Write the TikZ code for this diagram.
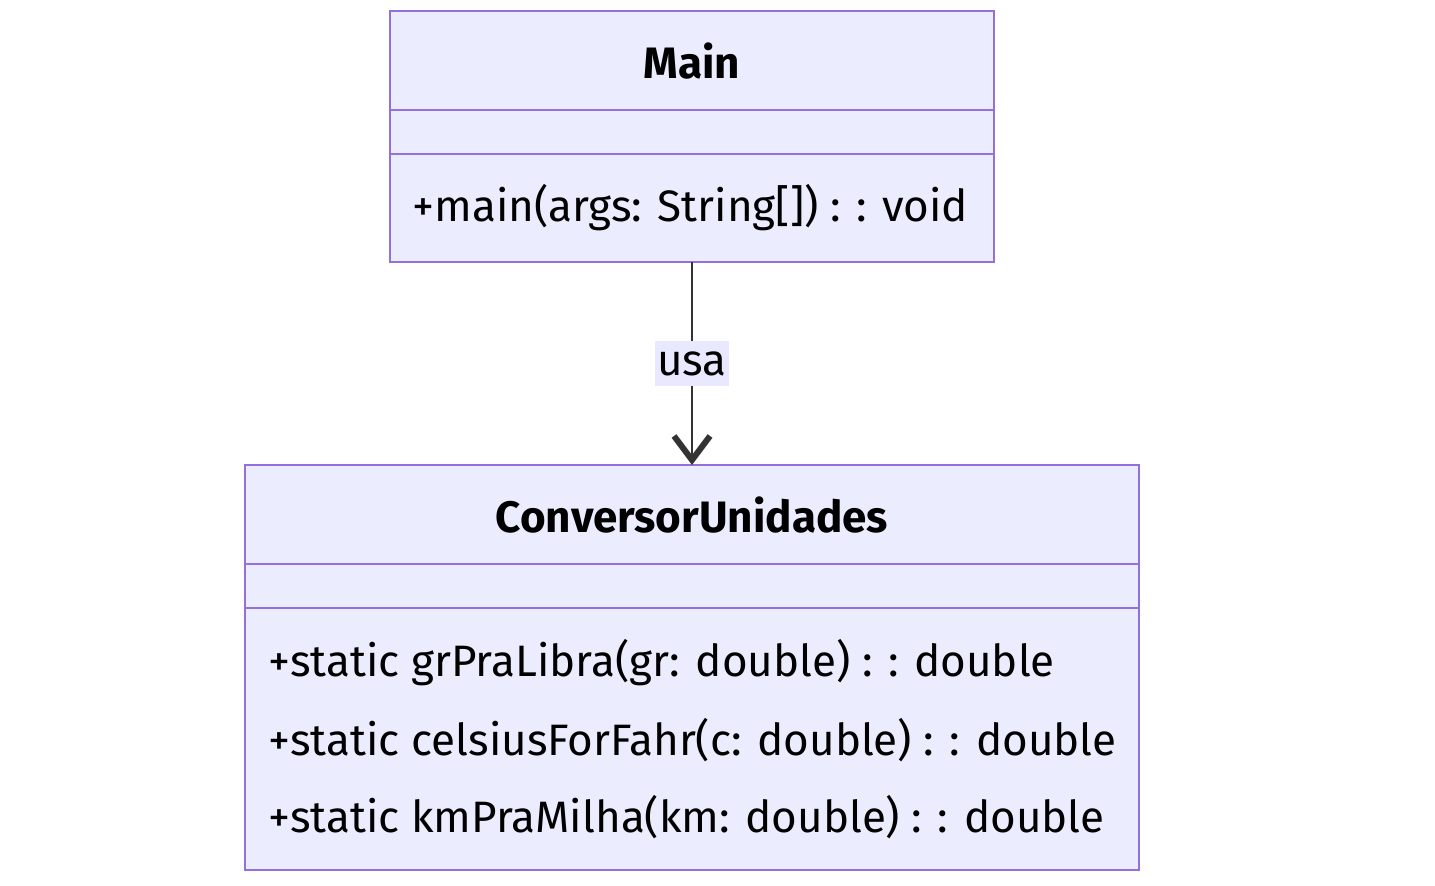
\documentclass[tikz,border=0pt]{standalone}
\usepackage{fontspec}
\setmainfont{Fira Sans}
\usetikzlibrary{arrows.meta,positioning}
\definecolor{umlfill}{HTML}{ECECFF}
\definecolor{umlborder}{HTML}{9370DB}
\definecolor{edgegray}{HTML}{333333}
\definecolor{labelfill}{HTML}{E8E8FF}
\begin{document}
\begin{tikzpicture}[x=0.5pt, y=-0.5pt, part/.style = {rectangle, draw=umlborder, fill=umlfill, line width=1.2pt, inner sep=0pt, outer sep=0pt}, member/.style = {anchor=west, inner sep=0pt, font=\fontsize{22}{26}\selectfont}, title/.style = {font=\fontsize{22}{26}\selectfont\bfseries, text depth=-3pt}, line/.style = {draw=edgegray, line width=1.1pt, -{Straight Barb[length=12pt, width=18pt, line width=3pt]}}]
	\useasboundingbox (0,0) rectangle (1435,886);
	% class Main
	\node[part, title, minimum width=302pt, minimum height=49.5pt] (mainhead) at (692,60.5) {Main};
	\node[part, minimum width=302pt, minimum height=22pt, below=0pt of mainhead] (mainattr) {};
	\node[part, minimum width=302pt, minimum height=54pt, below=0pt of mainattr] (mainmeth) {};
	\node[member] (mainop) at (412,208) {+main(args: String[]) : : void};
	% class ConversorUnidades
	\node[part, title, minimum width=447pt, minimum height=49.5pt] (convhead) at (692,514.5) {ConversorUnidades};
	\node[part, minimum width=447pt, minimum height=22pt, below=0pt of convhead] (convattr) {};
	\node[part, minimum width=447pt, minimum height=131pt, below=0pt of convattr] (convmeth) {};
	\node[member] (convgr) at (268,663) {+static grPraLibra(gr: double) : : double};
	\node[member] (convcel) at (268,740) {+static celsiusForFahr(c: double) : : double};
	\node[member] (convkm) at (268,817) {+static kmPraMilha(km: double) : : double};
	% relation
	\path[line] (mainmeth) -- node[fill=labelfill, inner xsep=1pt, inner ysep=5pt, font=\fontsize{22}{26}\selectfont] (uselabel) {usa} (convhead);
\end{tikzpicture}
\end{document}
